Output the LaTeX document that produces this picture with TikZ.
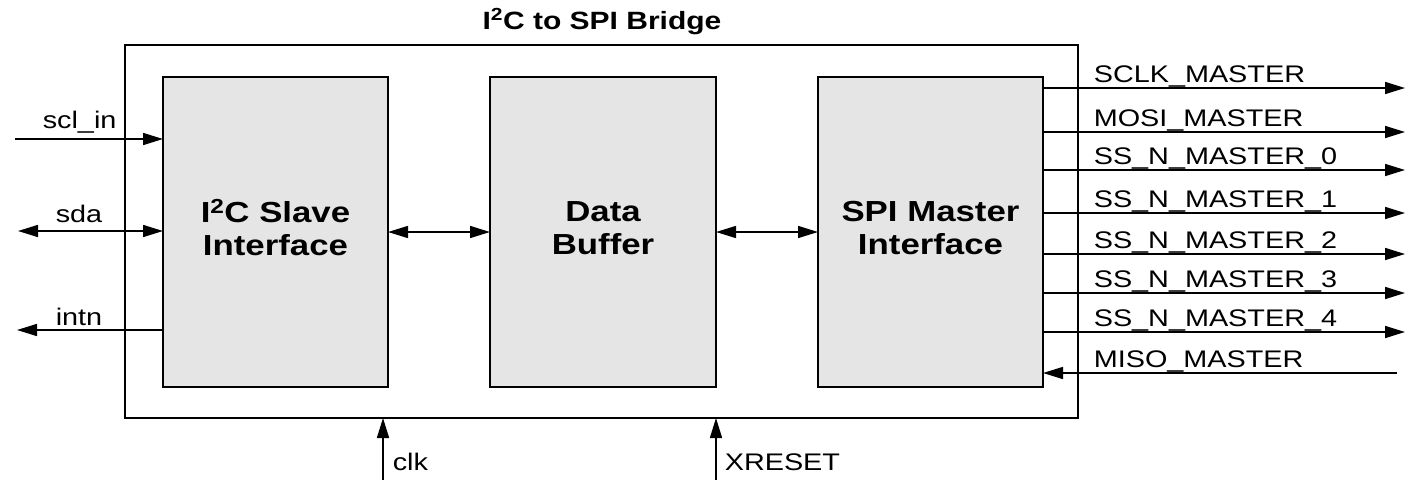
\documentclass[tikz,border=0pt]{standalone}
\usepackage{fontspec}
\setmainfont[FakeStretch=1.2]{Liberation Sans}
\usetikzlibrary{arrows.meta}
\begin{document}
\begin{tikzpicture}[x=1pt,y=-1pt,
  line width=1.6pt,
  tip/.tip={Triangle[length=20pt,width=12pt]},
  arr/.style={-tip},
  darr/.style={tip-tip},
  block/.style={draw, fill=black!10, inner sep=0pt, outer sep=0pt,
    minimum width=225pt, minimum height=310pt},
  blocktext/.style={align=center, inner sep=0pt,
    font=\fontsize{29}{33}\selectfont\bfseries},
  sig/.style={font=\fontsize{24}{28}\selectfont, inner sep=0pt},
  sigR/.style={sig, anchor=base west}
]
\useasboundingbox (0,0) rectangle (1409,480);

% bridge outline and title
\node[draw, inner sep=0pt, outer sep=0pt, minimum width=953pt, minimum height=373pt,
      anchor=north west] (bridge) at (125,45) {};
\node[font=\fontsize{25}{30}\selectfont\bfseries, inner sep=0pt] (title) at (602,22)
  {I\textsuperscript{2}C to SPI Bridge};

% internal blocks
\node[block] (i2c) at (275.5,232) {};
\node[block, minimum width=226pt] (buf) at (603,232) {};
\node[block] (spi) at (930.5,232) {};
\node[blocktext] (i2ct) at ([yshift=4pt]i2c.center) {I\textsuperscript{2}C Slave\\Interface};
\node[blocktext] (buft) at ([yshift=4pt]buf.center) {Data\\Buffer};
\node[blocktext] (spit) at ([yshift=4pt]spi.center) {SPI Master\\Interface};

% internal links
\draw[darr] (i2c.east) -- (buf.west);
\draw[darr] (buf.east) -- (spi.west);

% I2C side ports
\coordinate (sclin) at (15,139);
\coordinate (sda) at (18,231);
\coordinate (intn) at (17,330);
\draw[arr] (sclin) -- (sclin -| i2c.west);
\draw[darr] (sda) -- (sda -| i2c.west);
\draw[arr] (intn -| i2c.west) -- (intn);
\node[sigR] (lsclin) at (42,128) {scl\_in};
\node[sigR] (lsda) at (55,222) {sda};
\node[sigR] (lintn) at (55,325) {intn};

% clock and reset
\coordinate (clk) at (383,480);
\coordinate (rst) at (716,480);
\draw[arr] (clk) -- (clk |- bridge.south);
\draw[arr] (rst) -- (rst |- bridge.south);
\node[sigR] (lclk) at (392,470) {clk};
\node[sigR] (lrst) at (724,470) {XRESET};

% SPI side ports
\foreach \nm/\y/\txt in {sclk/88/SCLK\_MASTER, mosi/132/MOSI\_MASTER,
    ss0/170/SS\_N\_MASTER\_0, ss1/213/SS\_N\_MASTER\_1,
    ss2/254/SS\_N\_MASTER\_2, ss3/293/SS\_N\_MASTER\_3,
    ss4/332/SS\_N\_MASTER\_4} {
  \coordinate (\nm) at (1405,\y);
  \draw[arr] (\nm -| spi.east) -- (\nm);
  \node[sigR] (l\nm) at (1093,\y-6) {\txt};
}
\coordinate (miso) at (1397,373);
\draw[arr] (miso) -- (miso -| spi.east);
\node[sigR] (lmiso) at (1093,367) {MISO\_MASTER};
\end{tikzpicture}
\end{document}
